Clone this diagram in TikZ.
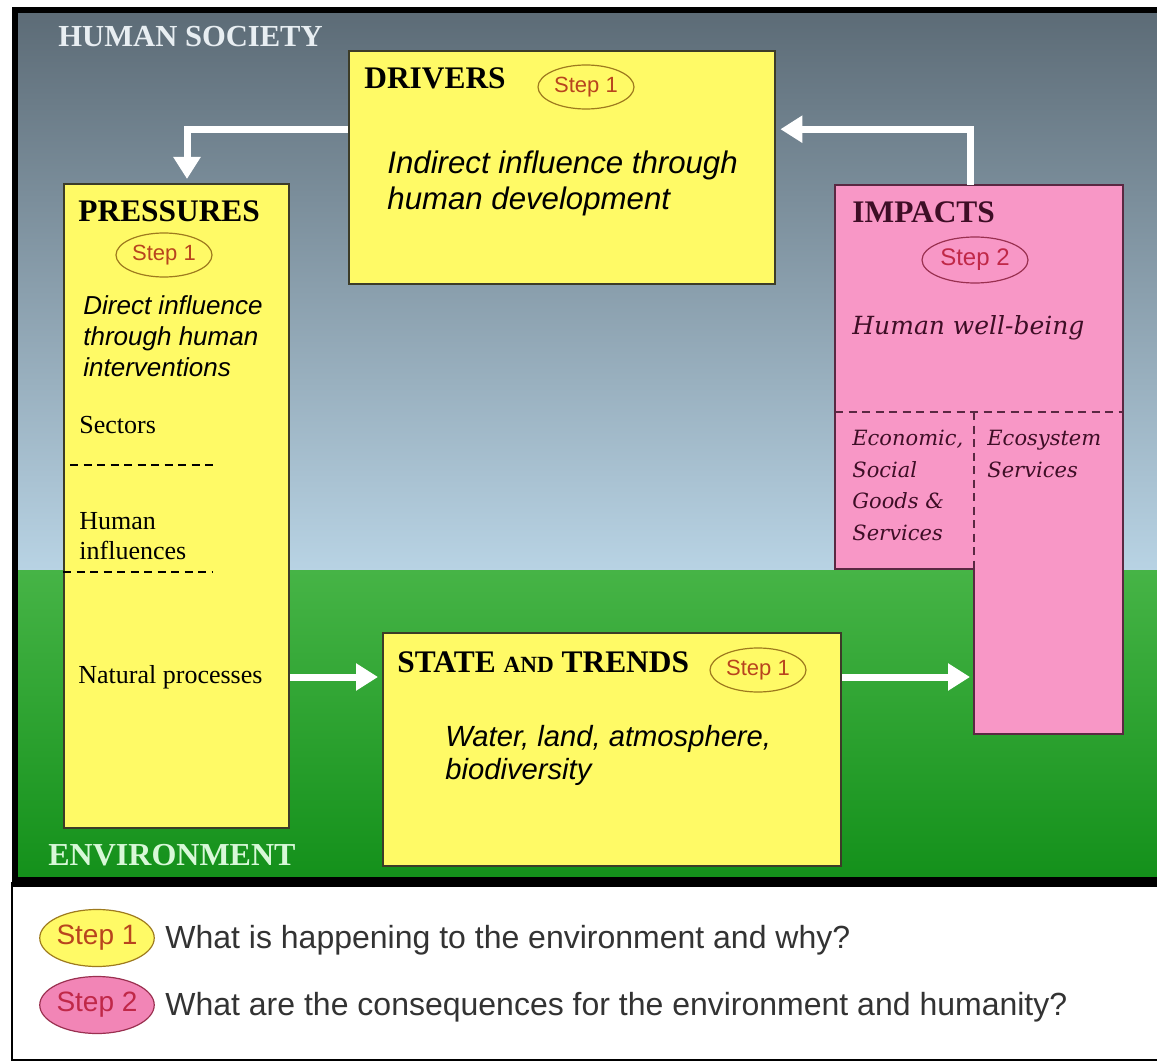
\documentclass[tikz,border=0pt]{standalone}
\usepackage{fontspec}
\setmainfont{Liberation Serif}
\setsansfont{Liberation Sans}
\newfontfamily\slabfont{DejaVu Serif}
\usetikzlibrary{shapes.geometric,arrows.meta,calc}
\definecolor{skytop}{HTML}{5C6B76}
\definecolor{skybottom}{HTML}{B8D3E4}
\definecolor{grasstop}{HTML}{46B446}
\definecolor{grassbottom}{HTML}{13901A}
\definecolor{boxyellow}{HTML}{FFFA66}
\definecolor{boxline}{HTML}{3C3C28}
\definecolor{boxpink}{HTML}{F897C6}
\definecolor{pinkline}{HTML}{5A2842}
\definecolor{steptext}{HTML}{B8441E}
\definecolor{stepline}{HTML}{9E7A1E}
\definecolor{steptwotext}{HTML}{C02848}
\definecolor{steptwoline}{HTML}{9A3050}
\definecolor{impacttext}{HTML}{3E0E26}
\definecolor{legendpink}{HTML}{F285B6}
\definecolor{societytext}{HTML}{E8EEF2}
\definecolor{envtext}{HTML}{D8F8D8}
\tikzset{%
  box/.style       = {shape=rectangle, draw=boxline, line width=1.2pt,%
                      fill=boxyellow, inner sep=0pt, anchor=north west},%
  pinkbox/.style   = {shape=rectangle, fill=boxpink, inner sep=0pt, anchor=north west},%
  heading/.style   = {anchor=west, inner sep=0pt, font=\fontsize{15.7}{18}\selectfont\bfseries},%
  stepone/.style   = {ellipse, draw=stepline, line width=0.6pt, inner sep=0pt,%
                      minimum width=48pt, minimum height=22pt, text=steptext,%
                      font=\sffamily\fontsize{11}{13}\selectfont},%
  steptwo/.style   = {stepone, draw=steptwoline, text=steptwotext,%
                      minimum width=53pt, minimum height=23pt,%
                      font=\sffamily\fontsize{12}{14}\selectfont},%
  note/.style      = {anchor=north west, inner sep=0pt, align=left},%
  plain/.style     = {anchor=west, inner sep=0pt, font=\fontsize{13}{15}\selectfont},%
  slab/.style      = {anchor=north west, inner sep=0pt, align=left, text=impacttext,%
                      font=\slabfont\itshape\fontsize{10.5}{15.75}\selectfont},%
  flow/.style      = {draw=white, line width=3.5pt, shorten >=2pt,%
                      -{Triangle[width=13pt,length=11pt]}},%
  divider/.style   = {dash pattern=on 4pt off 2.75pt, line width=0.7pt}%
}
\begin{document}
\begin{tikzpicture}[x=0.5pt,y=-0.5pt]
	\fill[white] (0,0) rectangle (1157,1064);
	\useasboundingbox (0,0) rectangle (1157,1064);
	% sky and ground
	\shade[top color=skytop,bottom color=skybottom] (15,10) rectangle (1162,570);
	\shade[top color=grasstop,bottom color=grassbottom] (15,570) rectangle (1162,882);
	\draw[line width=3pt] (1162,10) -- (15,10) -- (15,882);
	\draw[line width=0.9pt] (12,882) -- (12,1060) -- (1162,1060);
	\draw[line width=5pt] (12,882) -- (1162,882);
	\node[heading,text=societytext,font=\fontsize{15.3}{17}\selectfont\bfseries] (society) at (58,37) {HUMAN SOCIETY};
	\node[heading,text=envtext,font=\fontsize{16}{18}\selectfont\bfseries] (environment) at (48,855) {ENVIRONMENT};
	% boxes
	\node[box,minimum width=213pt,minimum height=116.5pt] (drivers) at (348,50) {};
	\node[box,minimum width=112.5pt,minimum height=322pt] (pressures) at (63,183) {};
	\node[box,minimum width=229pt,minimum height=116.5pt] (state) at (382,632) {};
	\node[pinkbox,minimum width=143.5pt,minimum height=191.5pt] (impacts) at (835,185) {};
	\node[pinkbox,minimum width=74pt,minimum height=160.5pt] (services) at (974,412) {};
	\draw[pinkline,line width=1.2pt] (impacts.north west) -- (impacts.north east)
		|- (services.south west) |- (impacts.south west) -- cycle;
	\draw[divider,pinkline] (impacts.west |- services.north) -- (services.north east);
	\draw[divider,pinkline] (services.north west) -- (services.west |- impacts.south);
	\draw[divider] (70,465) -- (218,465);
	\draw[divider] (63,572) -- (212,572);
	% drivers
	\node[heading] (driverstitle) at (364,78) {DRIVERS};
	\node[stepone] (driversstep) at (586,87) {Step 1};
	\node[note,font=\sffamily\itshape\fontsize{15.6}{18}\selectfont] (driverstext) at (387,150)
		{Indirect influence through\\human development};
	% pressures
	\node[heading] (pressurestitle) at (78,211) {PRESSURES};
	\node[stepone] (pressuresstep) at (164,255) {Step 1};
	\node[note,font=\sffamily\itshape\fontsize{13}{15.5}\selectfont] (pressurestext) at (83,295)
		{Direct influence\\through human\\interventions};
	\node[plain] (sectors) at (79,425) {Sectors};
	\node[plain,anchor=north west,align=left] (influences) at (79,512) {Human\\influences};
	\node[plain] (natural) at (78,677) {Natural processes};
	% state and trends
	\node[heading] (statetitle) at (397,662) {STATE {\fontsize{11.6}{14}\selectfont AND} TRENDS};
	\node[stepone] (statestep) at (758,670) {Step 1};
	\node[note,font=\sffamily\itshape\fontsize{14.6}{16.5}\selectfont] (statetext) at (445,725)
		{Water, land, atmosphere,\\biodiversity};
	% impacts
	\node[heading,text=impacttext] (impactstitle) at (852,212) {IMPACTS};
	\node[steptwo] (impactsstep) at (975,260) {Step 2};
	\node[anchor=base west,inner sep=0pt,text=impacttext,font=\slabfont\itshape\fontsize{12.5}{14}\selectfont]
		(wellbeing) at (852,335) {Human well-being};
	\node[slab] (goods) at (852,430) {Economic,\\Social\\Goods \&\\Services};
	\node[slab] (ecosystem) at (987,430) {Ecosystem\\Services};
	% arrows
	\draw[flow] ([xshift=67.5pt]impacts.north west) |- ([yshift=19.25pt]drivers.east);
	\draw[flow] ([yshift=19.25pt]drivers.west) -| ([xshift=62pt]pressures.north west);
	\draw[flow] (natural -| pressures.east) -- (natural -| state.west);
	\draw[flow] (natural -| state.east) -- (natural -| services.west);
	% legend
	\node[stepone,fill=boxyellow,minimum width=50pt,minimum height=28.5pt,
		font=\sffamily\fontsize{14}{16}\selectfont] (keyone) at (97,938) {Step 1};
	\node[steptwo,fill=legendpink,minimum width=50pt,minimum height=28.5pt,
		font=\sffamily\fontsize{14}{16}\selectfont] (keytwo) at (97,1005) {Step 2};
	\node[anchor=base west,inner sep=0pt,text=black!80,font=\sffamily\fontsize{16}{18}\selectfont]
		(keyonetext) at (165,948) {What is happening to the environment and why?};
	\node[anchor=base west,inner sep=0pt,text=black!80,font=\sffamily\fontsize{16}{18}\selectfont]
		(keytwotext) at (165,1015) {What are the consequences for the environment and humanity?};
\end{tikzpicture}
\end{document}
